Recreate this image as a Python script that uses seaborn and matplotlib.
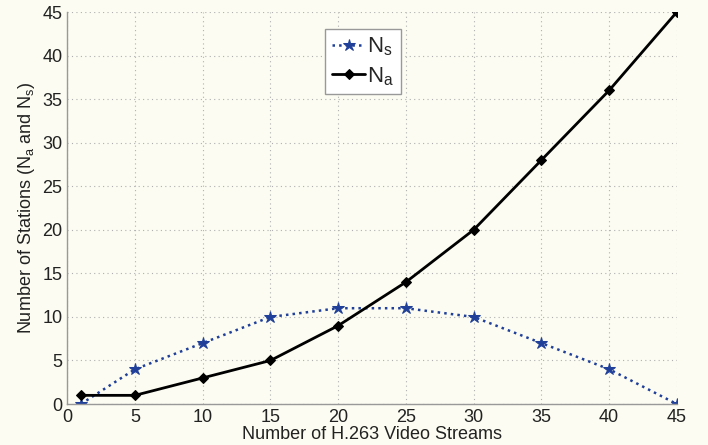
import matplotlib
matplotlib.use("Agg")
import matplotlib.pyplot as plt
import seaborn as sns
import pandas as pd

streams = [1, 5, 10, 15, 20, 25, 30, 35, 40, 45]
ns_values = [0, 4, 7, 10, 11, 11, 10, 7, 4, 0]
na_values = [1, 1, 3, 5, 9, 14, 20, 28, 36, 45]
x_ticks = [0, 5, 10, 15, 20, 25, 30, 35, 40, 45]
y_ticks = [0, 5, 10, 15, 20, 25, 30, 35, 40, 45]

sns.set_style("white")
plt.rcParams['font.family'] = ['Liberation Sans', 'DejaVu Sans']

bg = "#fcfcf2"
fig = plt.figure(figsize=(7.08, 4.45), dpi=100, facecolor=bg)
ax = fig.add_axes([0.095, 0.092, 0.861, 0.881])
ax.set_facecolor(bg)

df = pd.DataFrame({"x": streams, "Ns": ns_values, "Na": na_values})
sns.lineplot(data=df, x="x", y="Ns", ax=ax, color="#1f3f99", linestyle=":",
             linewidth=1.8, marker="*", markersize=9, markeredgecolor="#1f3f99",
             label=r"N$_\mathregular{s}$")
sns.lineplot(data=df, x="x", y="Na", ax=ax, color="black", linestyle="-",
             linewidth=2.0, marker="D", markersize=5, markeredgecolor="black",
             label=r"N$_\mathregular{a}$")

ax.set_xlim(0, 45)
ax.set_ylim(0, 45)
ax.set_xticks(x_ticks)
ax.set_yticks(y_ticks)
ax.grid(True, linestyle=(0, (1, 3)), color="#b0b0b0", linewidth=0.8)
for s in ["top", "right"]:
    ax.spines[s].set_visible(False)
for s in ["left", "bottom"]:
    ax.spines[s].set_color("#999999")
    ax.spines[s].set_linewidth(1.0)
ax.tick_params(axis="both", labelsize=13, colors="#222222", direction="in", length=3)
for lbl in ax.get_xticklabels() + ax.get_yticklabels():
    lbl.set_color("#222222")
ax.set_xlabel("Number of H.263 Video Streams", fontsize=13, color="#222222", labelpad=0)
ax.set_ylabel(r"Number of Stations (N$_\mathregular{a}$ and N$_\mathregular{s}$)",
              fontsize=13, color="#222222", labelpad=4)

leg = ax.legend(loc="upper left", bbox_to_anchor=(0.405, 0.985), fontsize=16,
                frameon=True, fancybox=False, edgecolor="#999999",
                facecolor="white", framealpha=1, handlelength=1.5,
                borderpad=0.3, labelspacing=0.3, handletextpad=0.1)
leg.get_frame().set_linewidth(1.0)

fig.savefig("out.png", dpi=100, facecolor=bg)
